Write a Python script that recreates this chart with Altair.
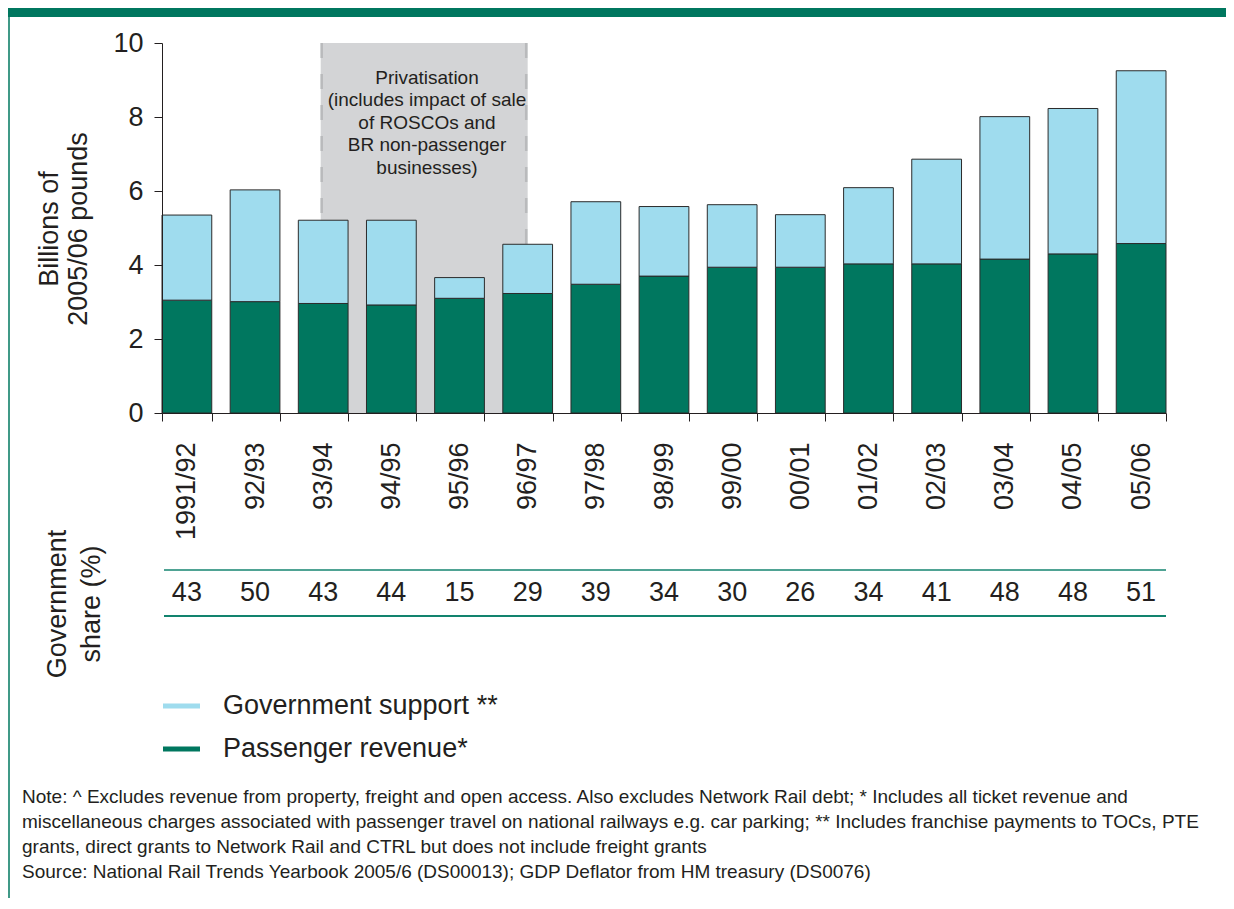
import altair as alt
import pandas as pd

years = ["1991/92", "92/93", "93/94", "94/95", "95/96", "96/97", "97/98", "98/99",
         "99/00", "00/01", "01/02", "02/03", "03/04", "04/05", "05/06"]
passenger = [3.05, 3.01, 2.96, 2.92, 3.10, 3.23, 3.48, 3.70, 3.94, 3.94, 4.03, 4.03, 4.16, 4.30, 4.58]
gov_support = [2.30, 3.02, 2.25, 2.29, 0.56, 1.33, 2.23, 1.88, 1.69, 1.42, 2.06, 2.83, 3.85, 3.93, 4.67]
gov_share = [43, 50, 43, 44, 15, 29, 39, 34, 30, 26, 34, 41, 48, 48, 51]
series = ["Government support **", "Passenger revenue*"]
colors = ["#9fdcee", "#00775f"]
priv_span = ["93/94", "96/97"]
priv_lines = ["Privatisation", "(includes impact of sale", "of ROSCOs and",
              "BR non-passenger", "businesses)"]
note_lines = [
    "Note: ^ Excludes revenue from property, freight and open access. Also excludes Network Rail debt; * Includes all ticket revenue and",
    "miscellaneous charges associated with passenger travel on national railways e.g. car parking; ** Includes franchise payments to TOCs, PTE",
    "grants, direct grants to Network Rail and CTRL but does not include freight grants",
    "Source: National Rail Trends Yearbook 2005/6 (DS00013); GDP Deflator from HM treasury (DS0076)",
]

FONT = "Liberation Sans"
INK = "#231f20"
W, H = 1004, 370
BIG = 27

rows = []
for y, p, g in zip(years, passenger, gov_support):
    rows.append({"year": y, "series": series[1], "value": p, "k": 0})
    rows.append({"year": y, "series": series[0], "value": g, "k": 1})
df = pd.DataFrame(rows)
share_df = pd.DataFrame({"year": years, "share": gov_share})
one = pd.DataFrame({"a": [0]})

xscale = alt.Scale(domain=years, paddingInner=0.27, paddingOuter=0)

x_axis = alt.Axis(title=None, labelAngle=270, labelFontSize=BIG, labelFont=FONT,
                  labelColor=INK, tickSize=8, tickColor=INK, domainColor=INK,
                  tickBand="extent", labelPadding=21, grid=False, zindex=1)
y_axis = alt.Axis(title=None, values=[0, 2, 4, 6, 8, 10], labelFontSize=BIG, labelFont=FONT,
                  labelColor=INK, tickSize=8, tickColor=INK, domainColor=INK,
                  labelPadding=11, grid=False, zindex=1)

priv = alt.Chart(pd.DataFrame({"start": [priv_span[0]], "end": [priv_span[1]]})).mark_rect(
    color="#d3d4d6").encode(
    x=alt.X("start:N", scale=xscale, bandPosition=0.45, axis=x_axis),
    x2=alt.X2("end", bandPosition=0.5),
    y=alt.datum(10),
    y2=alt.datum(0),
)
edges = alt.Chart(pd.DataFrame({"edge": priv_span, "bp": [0.45, 0.5]})).mark_rule(
    color="#b9babc", strokeWidth=2.5, strokeDash=[15, 16]).encode(
    x=alt.X("edge:N", scale=xscale, bandPosition=0.47, axis=x_axis),
    y=alt.datum(10),
    y2=alt.datum(0),
)
priv_text = alt.Chart(one).mark_text(
    text=priv_lines, font=FONT, fontSize=19, lineHeight=22.5, color=INK,
    align="center", baseline="middle").encode(
    x=alt.value(265), y=alt.datum(9.06))

bars = alt.Chart(df).mark_bar(stroke="#2b2b2b", strokeWidth=1).encode(
    x=alt.X("year:N", scale=xscale, axis=x_axis),
    y=alt.Y("value:Q", stack="zero", scale=alt.Scale(domain=[0, 10], nice=False), axis=y_axis),
    color=alt.Color("series:N", scale=alt.Scale(domain=series, range=colors), legend=None),
    order=alt.Order("k:Q"),
)

ytitle = alt.Chart(one).mark_text(
    text=["Billions of", "2005/06 pounds"], font=FONT, fontSize=BIG, lineHeight=29,
    color=INK, angle=270, align="center", baseline="middle").encode(
    x=alt.value(-112), y=alt.value(186))

share_title = alt.Chart(one).mark_text(
    text=["Government", "share (%)"], font=FONT, fontSize=BIG, lineHeight=34,
    color=INK, angle=270, align="center", baseline="middle").encode(
    x=alt.value(-104.5), y=alt.value(561))

share_top = alt.Chart(one).mark_rule(color="#4fa394", strokeWidth=2).encode(
    x=alt.value(2), x2=alt.value(W), y=alt.value(527))
share_bot = alt.Chart(one).mark_rule(color="#12836e", strokeWidth=2).encode(
    x=alt.value(2), x2=alt.value(W), y=alt.value(573))
share_text = alt.Chart(share_df).mark_text(
    font=FONT, fontSize=BIG, color=INK, baseline="middle").encode(
    x=alt.X("year:N", scale=xscale, axis=x_axis),
    y=alt.value(550),
    text="share:N")

legend_layers = []
for i, (s, c) in enumerate(zip(series, colors)):
    ypix = 663 + 43 * i
    legend_layers.append(alt.Chart(one).mark_rule(color=c, strokeWidth=5).encode(
        x=alt.value(1), x2=alt.value(38), y=alt.value(ypix)))
    legend_layers.append(alt.Chart(one).mark_text(
        text=s, font=FONT, fontSize=BIG, color=INK, align="left", baseline="middle").encode(
        x=alt.value(61), y=alt.value(ypix)))

notes = alt.Chart(one).mark_text(
    text=note_lines, font=FONT, fontSize=19, lineHeight=25, color=INK,
    align="left", baseline="middle").encode(
    x=alt.value(-140), y=alt.value(754))

band = alt.Chart(one).mark_rect(color="#00775f").encode(
    x=alt.value(-154), x2=alt.value(1064), y=alt.value(-35), y2=alt.value(-26))
border = alt.Chart(one).mark_rule(color="#00775f", strokeWidth=1.5).encode(
    x=alt.value(-153), y=alt.value(-35), y2=alt.value(855))

chart = alt.layer(
    priv, edges, priv_text, bars, ytitle, share_title, share_top, share_bot, share_text,
    *legend_layers, notes, band, border
).properties(
    width=W, height=H,
    autosize=alt.AutoSizeParams(type="none"),
    padding={"left": 154, "top": 35, "right": 60, "bottom": 485},
).configure_view(stroke=None)

chart.save("out.html", embed_options={"renderer": "svg", "actions": False})
